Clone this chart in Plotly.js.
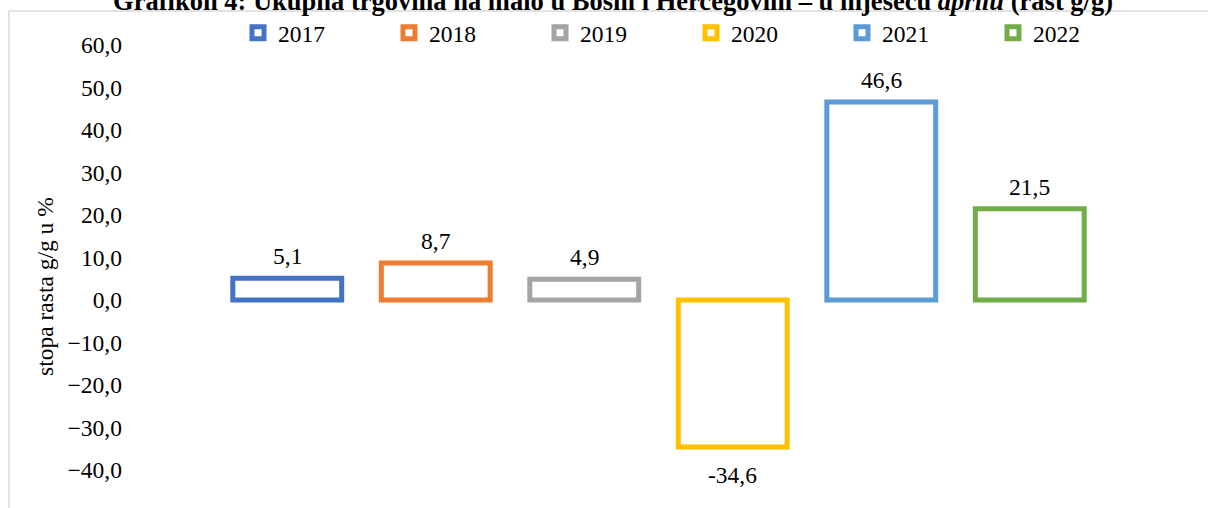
<!DOCTYPE html>
<html>
<head>
<meta charset="utf-8">
<script src="https://cdn.plot.ly/plotly-3.0.1.min.js"></script>
<style>
html,body{margin:0;padding:0;background:#fff;overflow:hidden;}
#chart{width:1208px;height:508px;}
</style>
</head>
<body>
<div id="chart"></div>
<script>
// Data
const years = ['2017', '2018', '2019', '2020', '2021', '2022'];
const values = [5.1, 8.7, 4.9, -34.6, 46.6, 21.5];
const colors = ['#4472C4', '#ED7D31', '#A5A5A5', '#FFC000', '#5B9BD5', '#70AD47'];
const labels = ['5,1', '8,7', '4,9', '-34,6', '46,6', '21,5'];
const tickVals = [-40, -30, -20, -10, 0, 10, 20, 30, 40, 50, 60];

const FONT = 'Liberation Serif, Times New Roman, serif';
const FS = 23.5;

const traces = years.map((y, i) => ({
  type: 'bar',
  name: y,
  x: [y],
  y: [values[i]],
  width: 0.733,
  marker: {color: 'rgba(255,255,255,1)', line: {color: colors[i], width: 5}},
  hoverinfo: 'skip'
}));

const annotations = years.map((y, i) => ({
  x: i, y: values[i], xref: 'x', yref: 'y',
  text: labels[i], showarrow: false,
  xanchor: 'center', yanchor: 'middle', yshift: values[i] >= 0 ? 22 : -28,
  font: {family: FONT, size: FS, color: '#000'}
}));
annotations.push({
  xref: 'paper', yref: 'paper', x: (45 - 213) / 891, y: (470 - 287) / 425,
  text: 'stopa rasta g/g u %', textangle: -90, showarrow: false,
  xanchor: 'center', yanchor: 'middle',
  font: {family: FONT, size: FS, color: '#000'}
});

const layout = {
  width: 1208, height: 508,
  margin: {l: 213, r: 104, t: 45, b: 38, autoexpand: false},
  paper_bgcolor: '#fff', plot_bgcolor: '#fff',
  font: {family: FONT, size: FS, color: '#000'},
  barmode: 'overlay',
  showlegend: true,
  title: {
    text: '<b>Grafikon 4: Ukupna trgovina na malo u Bosni i Hercegovini – u mjesecu <i>aprilu</i> (rast g/g)</b>',
    font: {family: FONT, size: 26.5, color: '#000'},
    x: 0.5075, xanchor: 'center', xref: 'container',
    y: 0.998, yanchor: 'middle', yref: 'container'
  },
  legend: {
    orientation: 'h', xref: 'paper', yref: 'paper',
    x: (1144 - 213) / 891, y: (470 - 33) / 425, xanchor: 'right', yanchor: 'middle',
    font: {family: FONT, size: FS, color: '#000'},
    entrywidth: 106, entrywidthmode: 'pixels',
    bgcolor: 'rgba(0,0,0,0)', itemclick: false, itemdoubleclick: false,
    traceorder: 'normal'
  },
  xaxis: {
    type: 'category', range: [-0.5, 5.5],
    showticklabels: false, showgrid: false, zeroline: false, showline: false, ticks: ''
  },
  yaxis: {
    range: [-40, 60], tickvals: tickVals, tickformat: '.1f',
    showgrid: false, zeroline: false, showline: false, ticks: '',
    ticklabelstandoff: 90,
    tickfont: {family: FONT, size: FS, color: '#000'}
  },
  separators: ',.',
  annotations: annotations,
  shapes: [{
    type: 'rect', xref: 'paper', yref: 'paper',
    x0: (9 - 213) / 891, x1: 1.3, y0: -0.3, y1: (470 - 11) / 425,
    line: {color: '#D9D9D9', width: 1.5}, fillcolor: 'rgba(0,0,0,0)', layer: 'below'
  }]
};

Plotly.newPlot('chart', traces, layout, {staticPlot: true, displayModeBar: false});
</script>
</body>
</html>
